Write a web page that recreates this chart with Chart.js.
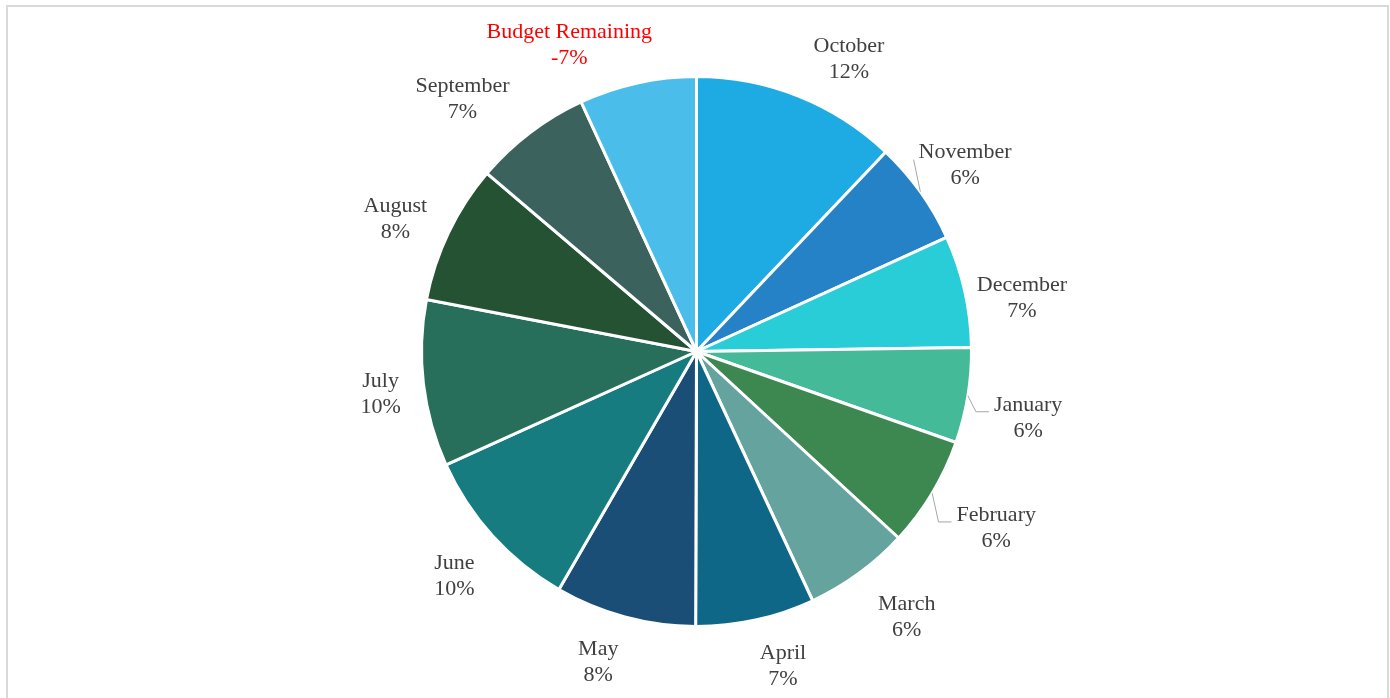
<!DOCTYPE html>
<html>
<head>
<meta charset="utf-8">
<title>Budget by month</title>
<script src="https://cdn.jsdelivr.net/npm/chart.js@4.4.1/dist/chart.umd.min.js"></script>
<style>
  html, body { margin: 0; padding: 0; background: #fff; overflow: hidden; }
  #frame {
    position: absolute; left: 6px; top: 5px; width: 1383px; height: 800px;
    box-sizing: border-box; border: 2px solid #d9d9d9;
  }
  #myPieChart { position: absolute; left: 0; top: 0; }
</style>
</head>
<body>
<div id="frame"></div>
<canvas id="myPieChart" width="1390" height="698"></canvas>
<script>
// data (share of the budget, in %)
const months = ['October', 'November', 'December', 'January', 'February', 'March',
  'April', 'May', 'June', 'July', 'August', 'September', 'Budget Remaining'];
// remaining budget is negative (overspent), the pie draws its absolute size
const spend = [12.1, 6.1, 6.6, 5.6, 6.5, 6.2, 7.0, 8.3, 9.9, 9.8, 8.2, 6.9, -6.9];
const colors = ['#1eaae2', '#2682c7', '#28cdd8', '#44ba98', '#3d8850', '#64a39e',
  '#0f6788', '#1a4e76', '#177c7f', '#276f5b', '#255232', '#3b625d', '#4abdea'];

// where Excel moved the labels away from their default spot
const labelNudge = {
  'October': [30, 14], 'November': [-13, 15], 'December': [-9, 22], 'January': [5, 13],
  'February': [8, 1], 'March': [15, -2], 'April': [17, -1], 'May': [-14, -1],
  'June': [-1, 6], 'July': [-2, 6], 'August': [-1, 12], 'September': [-27, 20],
  'Budget Remaining': [-55, 22]
};
const withLeader = ['November', 'January', 'February'];

const FONT = '22px "Liberation Serif", "Times New Roman", serif';

// draws "name / percent" outside each slice
const outsideLabels = {
  id: 'outsideLabels',
  afterDatasetsDraw(chart) {
    const ctx = chart.ctx;
    const meta = chart.getDatasetMeta(0);
    const values = chart.data.datasets[0].data;
    const total = values.reduce((a, v) => a + Math.abs(v), 0);
    ctx.save();
    ctx.font = FONT;
    ctx.textAlign = 'center';
    ctx.textBaseline = 'middle';
    meta.data.forEach((arc, i) => {
      const p = arc.getProps(['x', 'y', 'startAngle', 'endAngle', 'outerRadius'], true);
      const mid = (p.startAngle + p.endAngle) / 2;
      const dx = Math.cos(mid), dy = Math.sin(mid);
      const name = chart.data.labels[i];
      const pct = Math.round(values[i] / total * 100) + '%';
      const w = Math.max(ctx.measureText(name).width, ctx.measureText(pct).width);
      const h = 52;
      const ext = Math.abs(dx) * w / 2 + Math.abs(dy) * h / 2;
      const dist = p.outerRadius + 18 + ext;
      const nudge = labelNudge[name] || [0, 0];
      const cx = p.x + dx * dist + nudge[0];
      const cy = p.y + dy * dist + nudge[1];

      if (withLeader.includes(name)) {
        const ax = p.x + dx * p.outerRadius, ay = p.y + dy * p.outerRadius;
        const ex = cx - w / 2 - 5, ey = cy - 6;
        ctx.strokeStyle = '#a6a6a6';
        ctx.lineWidth = 1;
        ctx.beginPath();
        ctx.moveTo(ax, ay);
        if (ax < ex - 13) {
          ctx.lineTo(ex - 13, ey);
        }
        ctx.lineTo(ex, ey);
        ctx.stroke();
      }

      ctx.fillStyle = values[i] < 0 ? '#ff0000' : '#404040';
      ctx.fillText(name, cx, cy - 13);
      ctx.fillText(pct, cx, cy + 13);
    });
    ctx.restore();
  }
};

const pieCtx = document.getElementById('myPieChart').getContext('2d');
const myPieChart = new Chart(pieCtx, {
  type: 'pie',
  data: {
    labels: months,
    datasets: [{
      data: spend,
      backgroundColor: colors,
      borderColor: '#ffffff',
      borderWidth: 3
    }]
  },
  options: {
    responsive: false,
    animation: false,
    layout: {
      padding: { left: 420, right: 417, top: 75, bottom: 70 }
    },
    plugins: {
      legend: { display: false },
      tooltip: { enabled: false }
    }
  },
  plugins: [outsideLabels]
});
</script>
</body>
</html>
